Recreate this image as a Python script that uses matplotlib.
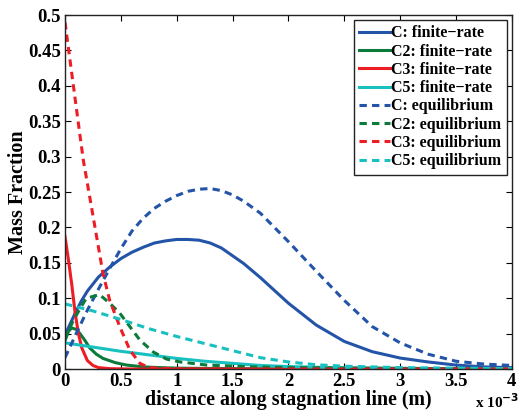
import numpy as np
import matplotlib.pyplot as plt

plt.rcParams['font.family'] = ['Liberation Serif', 'DejaVu Serif']
plt.rcParams['font.weight'] = 'bold'

# distance along stagnation line, in units of 1e-3 m
x_c_fr = [0, 0.05, 0.1, 0.15, 0.2, 0.25, 0.3, 0.4, 0.5, 0.6, 0.7, 0.8, 0.9, 1.0, 1.1,
          1.2, 1.3, 1.4, 1.5, 1.6, 1.75, 2.0, 2.25, 2.5, 2.75, 3.0, 3.25, 3.5, 3.75, 4.0]
y_c_fr = [0.048, 0.065, 0.082, 0.097, 0.11, 0.12, 0.13, 0.144, 0.156, 0.165, 0.172, 0.178, 0.181,
          0.183, 0.183, 0.182, 0.178, 0.171, 0.160, 0.149, 0.129, 0.093, 0.062, 0.039,
          0.0245, 0.0155, 0.010, 0.0056, 0.003, 0.002]

x_c2_fr = [0, 0.03, 0.06, 0.1, 0.134, 0.18, 0.22, 0.28, 0.34, 0.45, 0.55, 0.7, 0.85, 1.0, 1.5, 2.0, 3.0, 4.0]
y_c2_fr = [0.040, 0.053, 0.058, 0.056, 0.050, 0.040, 0.030, 0.021, 0.015, 0.009, 0.0056, 0.003,
           0.002, 0.0012, 0.0005, 0.0002, 0.0, 0.0]

x_c3_fr = [0, 0.03, 0.06, 0.09, 0.12, 0.15, 0.2, 0.25, 0.3, 0.4, 0.6, 1.0, 2.0, 3.0, 4.0]
y_c3_fr = [0.187, 0.155, 0.12, 0.08, 0.05, 0.03, 0.012, 0.005, 0.002, 0.0005, 0.0, 0.0, 0.0, 0.0, 0.0]

x_c5_fr = [0, 0.25, 0.5, 0.75, 1.0, 1.25, 1.5, 1.75, 2.0, 2.5, 3.0, 3.5, 4.0]
y_c5_fr = [0.037, 0.031, 0.025, 0.020, 0.015, 0.011, 0.008, 0.005, 0.0035, 0.0015, 0.0007, 0.0004, 0.0002]

x_c_eq = [0, 0.1, 0.2, 0.3, 0.4, 0.5, 0.6, 0.7, 0.8, 0.9, 1.0, 1.1, 1.2, 1.3, 1.4, 1.5, 1.6,
          1.75, 2.0, 2.25, 2.5, 2.75, 3.0, 3.25, 3.5, 3.75, 4.0]
y_c_eq = [0.016, 0.05, 0.083, 0.113, 0.142, 0.170, 0.195, 0.213, 0.227, 0.237, 0.245, 0.251, 0.254,
          0.255, 0.252, 0.246, 0.237, 0.220, 0.180, 0.138, 0.097, 0.060, 0.037, 0.021, 0.011,
          0.007, 0.005]

x_c2_eq = [0, 0.075, 0.19, 0.31, 0.4, 0.49, 0.58, 0.67, 0.79, 0.91, 1.03, 1.27, 1.66, 2.0, 3.0, 4.0]
y_c2_eq = [0.042, 0.069, 0.10, 0.105, 0.093, 0.079, 0.06, 0.041, 0.024, 0.014, 0.010, 0.0056,
           0.003, 0.002, 0.001, 0.0]

x_c3_eq = [0, 0.05, 0.134, 0.164, 0.25, 0.34, 0.40, 0.49, 0.58, 0.67, 0.75, 1.0, 2.0, 3.0, 4.0]
y_c3_eq = [0.49, 0.43, 0.33, 0.295, 0.217, 0.135, 0.097, 0.06, 0.027, 0.008, 0.002, 0.0, 0.0, 0.0, 0.0]

x_c5_eq = [0, 0.1, 0.25, 0.5, 0.75, 1.0, 1.25, 1.5, 1.75, 2.0, 2.25, 2.5, 3.0, 4.0]
y_c5_eq = [0.092, 0.088, 0.082, 0.070, 0.057, 0.046, 0.036, 0.026, 0.016, 0.010, 0.006, 0.004, 0.002, 0.0005]

blue = '#2354A8'
green = '#0B7A3B'
red = '#EE1C25'
cyan = '#19C0C0'

fig = plt.figure(figsize=(5.18, 4.13), dpi=100)
ax = fig.add_axes([0.1255, 0.1065, 0.8625, 0.857])

lw = 2.2
dash = (0, (2.4, 1.7))
ax.plot(np.array(x_c_fr) * 1e-3, y_c_fr, color=blue, lw=lw, label='C: finite\u2212rate')
ax.plot(np.array(x_c2_fr) * 1e-3, y_c2_fr, color=green, lw=lw, label='C2: finite\u2212rate')
ax.plot(np.array(x_c3_fr) * 1e-3, y_c3_fr, color=red, lw=lw, label='C3: finite\u2212rate')
ax.plot(np.array(x_c5_fr) * 1e-3, y_c5_fr, color=cyan, lw=lw, label='C5: finite\u2212rate')
ax.plot(np.array(x_c_eq) * 1e-3, y_c_eq, color=blue, lw=lw, ls=dash, label='C: equilibrium')
ax.plot(np.array(x_c2_eq) * 1e-3, y_c2_eq, color=green, lw=lw, ls=dash, label='C2: equilibrium')
ax.plot(np.array(x_c3_eq) * 1e-3, y_c3_eq, color=red, lw=lw, ls=dash, label='C3: equilibrium')
ax.plot(np.array(x_c5_eq) * 1e-3, y_c5_eq, color=cyan, lw=lw, ls=dash, label='C5: equilibrium')

ax.set_xlim(0, 4e-3)
ax.set_ylim(0, 0.5)
xt = np.arange(0, 4.01, 0.5)
ax.set_xticks(xt * 1e-3)
ax.set_xticklabels(['%g' % v for v in xt])
yt = np.arange(0, 0.501, 0.05)
ax.set_yticks(yt)
ax.set_yticklabels(['%g' % round(v, 2) for v in yt])
ax.tick_params(direction='in', top=True, right=True, length=4, width=0.8, labelsize=13.5, pad=3)
for s in ax.spines.values():
    s.set_linewidth(1.0)
    s.set_color('#222222')

ax.set_xlabel('distance along stagnation line (m)', fontsize=14.4, fontweight='bold', labelpad=0)
ax.set_ylabel('Mass Fraction', fontsize=14.5, fontweight='bold', labelpad=0)
fig.text(0.917, 0.012, r'x 10$^{\mathbf{-3}}$', fontsize=11, fontweight='bold', va='baseline')

leg = ax.legend(loc='upper right', fontsize=11.5, frameon=True, fancybox=False, handlelength=1.9,
                handletextpad=0.1, labelspacing=0.14, borderpad=0.35, borderaxespad=0.3)
leg.get_frame().set_edgecolor('#222222')
leg.get_frame().set_linewidth(1.0)
leg.get_frame().set_alpha(1)

fig.savefig('out.png', dpi=100)
